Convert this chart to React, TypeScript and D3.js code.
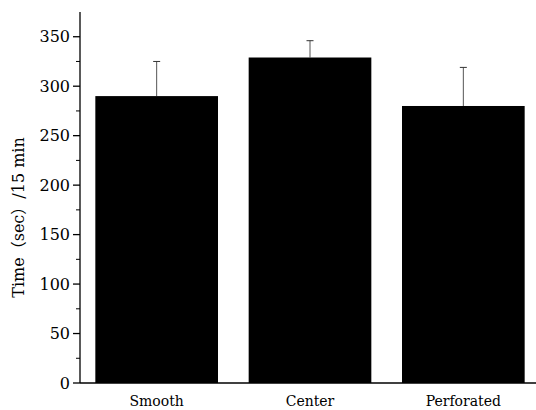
import React from 'react';
import * as d3 from "d3";

const categories = ["Smooth", "Center", "Perforated"];
const means = [290, 329, 280];
const errors = [35, 17, 39];
const yTicks = [0, 50, 100, 150, 200, 250, 300, 350];
const yLabel = "Time（sec）/15 min";

const App = () => {
    const width = 536,
        height = 410,
        left = 80,
        right = 540,
        top = 12,
        bottom = 383;

    const x = d3.scaleBand()
        .domain(categories)
        .range([left, right])
        .paddingInner(0.2)
        .paddingOuter(0.1);
    const y = d3.scaleLinear().domain([0, 375]).range([bottom, top]);
    const minor = d3.range(25, 375, 50);
    const font = "'DejaVu Serif', 'Noto Sans CJK SC', serif";

    return (
        <svg width={width} height={height} style={{position: 'absolute', left: 0, top: 0}} fontFamily={font}>
            <rect width={width} height={height} fill="#fff" />
            {categories.map((c, i) => {
                const cx = x(c) + x.bandwidth() / 2;
                return (
                    <g key={c}>
                        <line x1={cx} x2={cx} y1={y(means[i])} y2={y(means[i] + errors[i])} stroke="#555" strokeWidth={1} />
                        <line x1={cx - 3.5} x2={cx + 3.5} y1={y(means[i] + errors[i])} y2={y(means[i] + errors[i])} stroke="#333" strokeWidth={1} />
                        <rect x={x(c)} y={y(means[i])} width={x.bandwidth()} height={y(0) - y(means[i])} fill="#000" />
                        <text x={cx} y={406} textAnchor="middle" fontSize={14}>{c}</text>
                    </g>
                );
            })}
            <line x1={left} x2={left} y1={top} y2={bottom} stroke="#000" strokeWidth={1.3} />
            <line x1={left} x2={right} y1={bottom} y2={bottom} stroke="#000" strokeWidth={1.3} />
            {yTicks.map(t => (
                <g key={t}>
                    <line x1={left - 7} x2={left} y1={y(t)} y2={y(t)} stroke="#000" strokeWidth={1.3} />
                    <text x={left - 10} y={y(t)} dy="0.35em" textAnchor="end" fontSize={16}>{t}</text>
                </g>
            ))}
            {minor.map(t => (
                <line key={t} x1={left - 4} x2={left} y1={y(t)} y2={y(t)} stroke="#000" strokeWidth={1} />
            ))}
            <text transform={`translate(24, ${(top + bottom) / 2 + 20}) rotate(-90)`} textAnchor="middle" fontSize={16}>{yLabel}</text>
        </svg>
    );
};

export default App;
